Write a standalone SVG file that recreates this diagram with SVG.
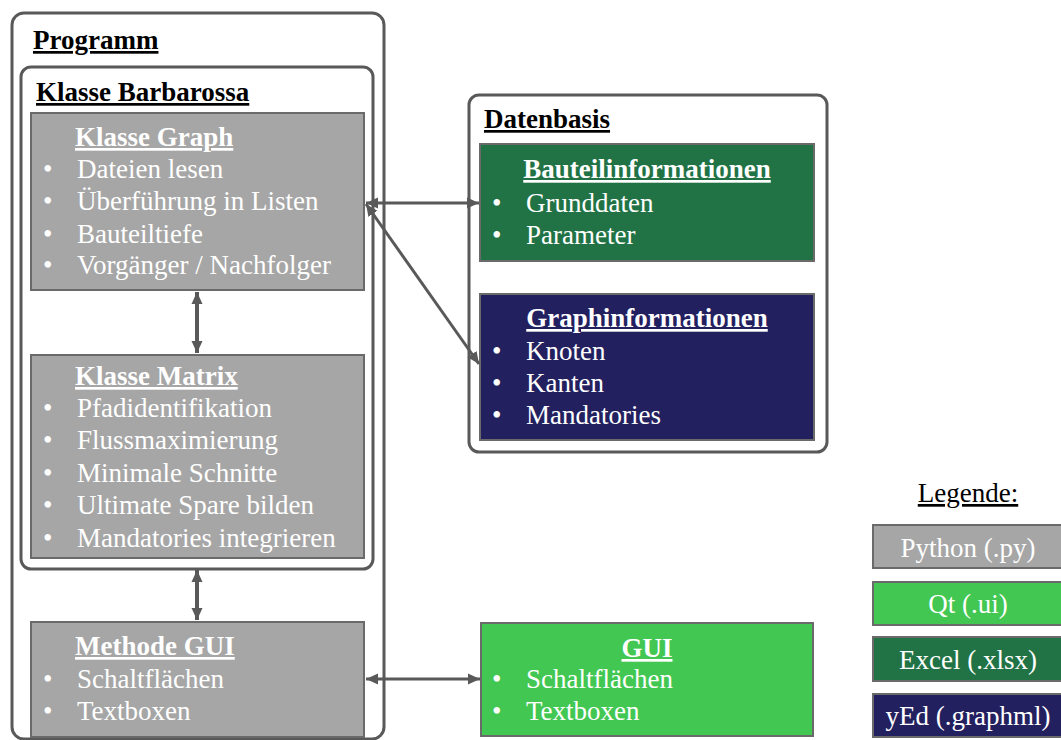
<svg xmlns="http://www.w3.org/2000/svg" width="1061" height="740" viewBox="0 0 1061 740">
<style>
.t{font-family:"Liberation Serif","Times New Roman",serif;font-size:27px}
.h{font-weight:bold;text-decoration:underline}
.w{fill:#ffffff}
.k{fill:#000000}
.cont{fill:#ffffff;stroke:#595959;stroke-width:3}
.box{stroke:#6a6a6a;stroke-width:2}
.py{fill:#a6a6a6}
.qt{fill:#41c752}
.xl{fill:#217346}
.yed{fill:#23205f}
.c{fill:none;stroke:#595959;stroke-width:3}
.v{stroke-width:4}
</style>
<defs>
<marker id="ah" markerUnits="userSpaceOnUse" markerWidth="14" markerHeight="14" refX="12" refY="7" orient="auto-start-reverse">
<path d="M0,1.5 L12,7 L0,12.5 Z" fill="#595959"/>
</marker>
</defs>
<g id="programm">
<rect class="cont" x="12" y="13" width="372" height="726" rx="12"/>
<text class="t h k" x="33" y="49">Programm</text>
</g>
<g id="barbarossa">
<rect class="cont" x="21" y="67" width="352" height="502" rx="10"/>
<text class="t h k" x="36" y="101">Klasse Barbarossa</text>
</g>
<g id="graph">
<rect class="box py" x="31" y="113" width="333" height="177"/>
<text class="t h w" x="75" y="146">Klasse Graph</text>
<text class="t w" x="43" y="178">•</text><text class="t w" x="77" y="178">Dateien lesen</text>
<text class="t w" x="43" y="210">•</text><text class="t w" x="77" y="210">Überführung in Listen</text>
<text class="t w" x="43" y="243">•</text><text class="t w" x="77" y="243">Bauteiltiefe</text>
<text class="t w" x="43" y="274">•</text><text class="t w" x="77" y="274">Vorgänger / Nachfolger</text>
</g>
<g id="matrix">
<rect class="box py" x="31" y="355" width="333" height="203"/>
<text class="t h w" x="75" y="385">Klasse Matrix</text>
<text class="t w" x="43" y="417">•</text><text class="t w" x="77" y="417">Pfadidentifikation</text>
<text class="t w" x="43" y="449">•</text><text class="t w" x="77" y="449">Flussmaximierung</text>
<text class="t w" x="43" y="482">•</text><text class="t w" x="77" y="482">Minimale Schnitte</text>
<text class="t w" x="43" y="514">•</text><text class="t w" x="77" y="514">Ultimate Spare bilden</text>
<text class="t w" x="43" y="547">•</text><text class="t w" x="77" y="547">Mandatories integrieren</text>
</g>
<g id="methode-gui">
<rect class="box py" x="31" y="622" width="333" height="115"/>
<text class="t h w" x="75" y="655">Methode GUI</text>
<text class="t w" x="43" y="688">•</text><text class="t w" x="77" y="688">Schaltflächen</text>
<text class="t w" x="43" y="720">•</text><text class="t w" x="77" y="720">Textboxen</text>
</g>
<g id="datenbasis">
<rect class="cont" x="469" y="95" width="358" height="357" rx="10"/>
<text class="t h k" x="484" y="128">Datenbasis</text>
</g>
<g id="bauteil">
<rect class="box xl" x="480" y="144" width="334" height="117"/>
<text class="t h w" x="647" y="178" text-anchor="middle">Bauteilinformationen</text>
<text class="t w" x="492" y="212">•</text><text class="t w" x="526" y="212">Grunddaten</text>
<text class="t w" x="492" y="244">•</text><text class="t w" x="526" y="244">Parameter</text>
</g>
<g id="graphinfo">
<rect class="box yed" x="480" y="294" width="334" height="146"/>
<text class="t h w" x="647" y="327" text-anchor="middle">Graphinformationen</text>
<text class="t w" x="492" y="360">•</text><text class="t w" x="526" y="360">Knoten</text>
<text class="t w" x="492" y="392">•</text><text class="t w" x="526" y="392">Kanten</text>
<text class="t w" x="492" y="424">•</text><text class="t w" x="526" y="424">Mandatories</text>
</g>
<g id="gui">
<rect class="box qt" x="481" y="623" width="332" height="113"/>
<text class="t h w" x="647" y="657" text-anchor="middle">GUI</text>
<text class="t w" x="492" y="688">•</text><text class="t w" x="526" y="688">Schaltflächen</text>
<text class="t w" x="492" y="720">•</text><text class="t w" x="526" y="720">Textboxen</text>
</g>
<g id="legende">
<text class="t k" x="968" y="502" text-anchor="middle" style="text-decoration:underline">Legende:</text>
<rect class="box py" x="873" y="525" width="190" height="43"/>
<text class="t w" x="968" y="557" text-anchor="middle">Python (.py)</text>
<rect class="box qt" x="873" y="582" width="190" height="43"/>
<text class="t w" x="968" y="613" text-anchor="middle">Qt (.ui)</text>
<rect class="box xl" x="873" y="637" width="190" height="44"/>
<text class="t w" x="968" y="669" text-anchor="middle">Excel (.xlsx)</text>
<rect class="box yed" x="873" y="694" width="190" height="43"/>
<text class="t w" x="968" y="725" text-anchor="middle">yEd (.graphml)</text>
</g>
<g id="connectors">
<line class="c v" x1="197" y1="292" x2="197" y2="353" marker-start="url(#ah)" marker-end="url(#ah)"/>
<line class="c v" x1="197" y1="570" x2="197" y2="620" marker-start="url(#ah)" marker-end="url(#ah)"/>
<line class="c" x1="366" y1="203" x2="479" y2="203" marker-start="url(#ah)" marker-end="url(#ah)"/>
<line class="c" x1="366" y1="204" x2="479" y2="364" marker-start="url(#ah)" marker-end="url(#ah)"/>
<line class="c" x1="366" y1="679" x2="480" y2="679" marker-start="url(#ah)" marker-end="url(#ah)"/>
</g>
</svg>
